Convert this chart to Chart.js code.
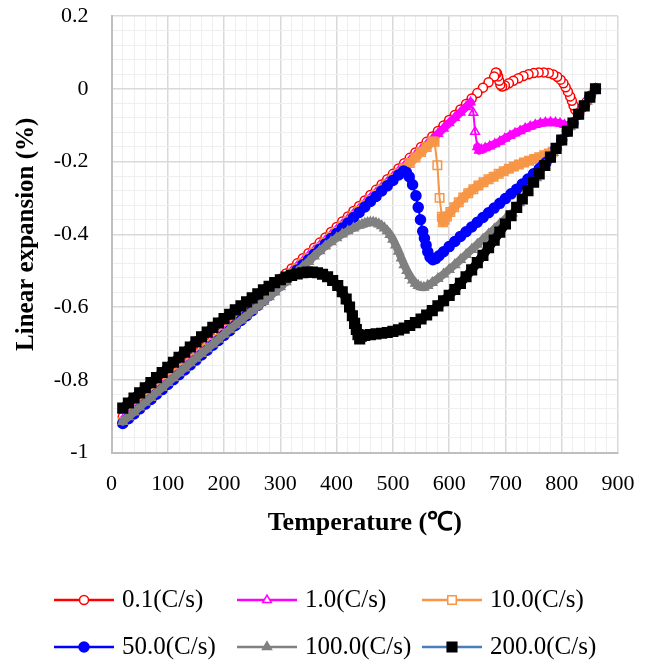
<!DOCTYPE html>
<html>
<head>
<meta charset="utf-8">
<script src="https://cdn.jsdelivr.net/npm/chart.js@4.4.1/dist/chart.umd.min.js"></script>
<style>
  html, body { margin: 0; padding: 0; background: #fff; }
</style>
</head>
<body>
<canvas id="chart" width="654" height="664"></canvas>
<script>
// cooling curves, temperature (C) and linear expansion (%)

// 0.1 C/s
const temp01 = [
  860, 852, 844, 836, 829, 824, 821, 818, 815, 811,
  807, 803, 798, 792, 785, 777, 768, 759, 750, 741,
  732, 723, 714, 706, 699, 694, 691, 689, 687, 685,
  683, 680, 670, 660, 650, 640, 630, 620, 610, 600,
  590, 580, 570, 560, 550, 540, 530, 520, 510, 500,
  490, 480, 470, 460, 450, 440, 430, 420, 410, 400,
  390, 380, 370, 360, 350, 340, 330, 320, 310, 300,
  290, 280, 270, 260, 250, 240, 230, 220, 210, 200,
  190, 180, 170, 160, 150, 140, 130, 120, 110, 100,
  90, 80, 70, 60, 50, 40, 30, 20
];
const exp01 = [
  0.000, -0.018, -0.036, -0.053, -0.063, -0.058, -0.046, -0.033, -0.021, -0.008,
  0.004, 0.015, 0.025, 0.033, 0.039, 0.043, 0.045, 0.045, 0.043, 0.040,
  0.035, 0.029, 0.022, 0.015, 0.009, 0.006, 0.011, 0.022, 0.034, 0.043,
  0.045, 0.034, 0.018, 0.003, -0.012, -0.027, -0.042, -0.057, -0.072, -0.086,
  -0.101, -0.116, -0.131, -0.146, -0.160, -0.175, -0.190, -0.205, -0.219, -0.234,
  -0.249, -0.263, -0.278, -0.292, -0.307, -0.322, -0.336, -0.351, -0.365, -0.380,
  -0.394, -0.409, -0.423, -0.437, -0.452, -0.466, -0.480, -0.494, -0.508, -0.522,
  -0.536, -0.550, -0.564, -0.578, -0.592, -0.606, -0.619, -0.633, -0.647, -0.660,
  -0.674, -0.687, -0.701, -0.714, -0.728, -0.741, -0.755, -0.768, -0.782, -0.795,
  -0.809, -0.822, -0.836, -0.849, -0.862, -0.876, -0.889, -0.902
];

// 1.0 C/s
const temp1 = [
  860, 850, 840, 830, 820, 812, 805, 797, 789, 780,
  771, 762, 753, 744, 735, 726, 717, 708, 699, 690,
  681, 672, 664, 657, 653, 650, 646, 643, 638, 630,
  620, 610, 600, 590, 580, 570, 560, 550, 540, 530,
  520, 510, 500, 490, 480, 470, 460, 450, 440, 430,
  420, 410, 400, 390, 380, 370, 360, 350, 340, 330,
  320, 310, 300, 290, 280, 270, 260, 250, 240, 230,
  220, 210, 200, 190, 180, 170, 160, 150, 140, 130,
  120, 110, 100, 90, 80, 70, 60, 50, 40, 30,
  20
];
const exp1 = [
  0.000, -0.023, -0.047, -0.070, -0.094, -0.103, -0.099, -0.095, -0.093, -0.092,
  -0.093, -0.095, -0.099, -0.104, -0.109, -0.116, -0.122, -0.129, -0.137, -0.145,
  -0.152, -0.158, -0.163, -0.167, -0.170, -0.160, -0.118, -0.066, -0.037, -0.050,
  -0.065, -0.080, -0.094, -0.109, -0.124, -0.139, -0.154, -0.168, -0.183, -0.198,
  -0.213, -0.227, -0.242, -0.257, -0.271, -0.286, -0.300, -0.315, -0.330, -0.344,
  -0.359, -0.373, -0.388, -0.402, -0.417, -0.431, -0.445, -0.460, -0.474, -0.488,
  -0.502, -0.516, -0.530, -0.544, -0.558, -0.572, -0.586, -0.600, -0.614, -0.627,
  -0.641, -0.655, -0.668, -0.682, -0.695, -0.709, -0.722, -0.736, -0.749, -0.763,
  -0.776, -0.790, -0.803, -0.817, -0.830, -0.844, -0.857, -0.870, -0.884, -0.897,
  -0.910
];

// 10.0 C/s
const temp10 = [
  860, 850, 840, 830, 820, 810, 800, 790, 784, 777,
  769, 760, 751, 742, 733, 724, 715, 706, 697, 688,
  679, 670, 661, 652, 643, 634, 625, 617, 609, 602,
  596, 592, 589, 587, 583, 579, 574, 570, 560, 550,
  540, 530, 520, 510, 500, 490, 480, 470, 460, 450,
  440, 430, 420, 410, 400, 390, 380, 370, 360, 350,
  340, 330, 320, 310, 300, 290, 280, 270, 260, 250,
  240, 230, 220, 210, 200, 190, 180, 170, 160, 150,
  140, 130, 120, 110, 100, 90, 80, 70, 60, 50,
  40, 30, 20
];
const exp10 = [
  0.000, -0.023, -0.047, -0.070, -0.094, -0.117, -0.141, -0.164, -0.173, -0.178,
  -0.183, -0.188, -0.193, -0.198, -0.203, -0.208, -0.214, -0.220, -0.227, -0.234,
  -0.242, -0.249, -0.257, -0.266, -0.276, -0.287, -0.299, -0.312, -0.326, -0.339,
  -0.351, -0.360, -0.367, -0.352, -0.300, -0.210, -0.146, -0.145, -0.160, -0.174,
  -0.189, -0.204, -0.219, -0.233, -0.248, -0.263, -0.277, -0.292, -0.306, -0.321,
  -0.336, -0.350, -0.365, -0.379, -0.394, -0.408, -0.423, -0.437, -0.451, -0.466,
  -0.480, -0.494, -0.508, -0.522, -0.536, -0.550, -0.564, -0.578, -0.592, -0.606,
  -0.620, -0.633, -0.647, -0.661, -0.674, -0.688, -0.701, -0.715, -0.728, -0.742,
  -0.755, -0.769, -0.782, -0.796, -0.809, -0.823, -0.836, -0.850, -0.863, -0.876,
  -0.890, -0.903, -0.916
];

// 50.0 C/s
const temp50 = [
  860, 850, 840, 830, 820, 810, 800, 790, 780, 772,
  766, 760, 750, 740, 730, 720, 710, 700, 690, 680,
  670, 660, 650, 640, 630, 620, 610, 600, 590, 582,
  576, 571, 566, 562, 559, 556, 553, 549, 545, 541,
  535, 529, 524, 519, 510, 500, 490, 480, 470, 460,
  450, 440, 430, 420, 410, 400, 390, 380, 370, 360,
  350, 340, 330, 320, 310, 300, 290, 280, 270, 260,
  250, 240, 230, 220, 210, 200, 190, 180, 170, 160,
  150, 140, 130, 120, 110, 100, 90, 80, 70, 60,
  50, 40, 30, 20
];
const exp50 = [
  0.000, -0.023, -0.047, -0.070, -0.094, -0.117, -0.141, -0.164, -0.188, -0.203,
  -0.212, -0.220, -0.234, -0.248, -0.262, -0.276, -0.289, -0.302, -0.315, -0.328,
  -0.341, -0.354, -0.367, -0.380, -0.393, -0.406, -0.420, -0.434, -0.448, -0.459,
  -0.467, -0.470, -0.463, -0.448, -0.430, -0.411, -0.392, -0.360, -0.326, -0.294,
  -0.264, -0.242, -0.230, -0.226, -0.237, -0.252, -0.267, -0.281, -0.296, -0.310,
  -0.325, -0.340, -0.354, -0.369, -0.383, -0.398, -0.412, -0.427, -0.441, -0.455,
  -0.470, -0.484, -0.498, -0.512, -0.526, -0.540, -0.554, -0.568, -0.582, -0.596,
  -0.610, -0.624, -0.637, -0.651, -0.665, -0.678, -0.692, -0.705, -0.719, -0.732,
  -0.746, -0.759, -0.773, -0.786, -0.800, -0.813, -0.827, -0.840, -0.854, -0.867,
  -0.880, -0.894, -0.907, -0.920
];

// 100.0 C/s
const temp100 = [
  860, 845, 830, 815, 800, 785, 770, 755, 740, 725,
  712, 700, 690, 680, 670, 660, 650, 640, 630, 620,
  610, 600, 590, 580, 570, 562, 555, 550, 545, 540,
  535, 530, 525, 520, 515, 510, 505, 500, 495, 490,
  485, 480, 475, 470, 465, 460, 455, 450, 445, 440,
  430, 420, 410, 400, 390, 380, 370, 360, 350, 340,
  330, 320, 310, 300, 290, 280, 270, 260, 250, 240,
  230, 220, 210, 200, 190, 180, 170, 160, 150, 140,
  130, 120, 110, 100, 90, 80, 70, 60, 50, 40,
  30, 20
];
const exp100 = [
  0.000, -0.035, -0.070, -0.105, -0.141, -0.176, -0.211, -0.245, -0.280, -0.314,
  -0.342, -0.358, -0.372, -0.386, -0.400, -0.414, -0.428, -0.442, -0.456, -0.470,
  -0.484, -0.497, -0.510, -0.522, -0.533, -0.541, -0.546, -0.545, -0.541, -0.535,
  -0.526, -0.514, -0.500, -0.484, -0.466, -0.447, -0.430, -0.414, -0.401, -0.391,
  -0.383, -0.377, -0.372, -0.369, -0.367, -0.367, -0.368, -0.370, -0.373, -0.376,
  -0.383, -0.391, -0.400, -0.410, -0.421, -0.433, -0.446, -0.460, -0.475, -0.489,
  -0.503, -0.517, -0.531, -0.545, -0.559, -0.572, -0.585, -0.598, -0.610, -0.623,
  -0.636, -0.649, -0.662, -0.675, -0.689, -0.702, -0.715, -0.728, -0.741, -0.754,
  -0.768, -0.781, -0.795, -0.808, -0.822, -0.835, -0.849, -0.862, -0.875, -0.889,
  -0.902, -0.915
];

// 200.0 C/s
const temp200 = [
  860, 850, 840, 830, 820, 810, 800, 790, 780, 770,
  760, 750, 740, 730, 720, 710, 700, 690, 680, 670,
  660, 650, 640, 630, 620, 610, 600, 590, 580, 570,
  560, 550, 540, 530, 520, 510, 500, 490, 480, 470,
  460, 450, 444, 441, 438, 435, 432, 428, 423, 417,
  410, 402, 393, 384, 375, 366, 357, 348, 340, 330,
  320, 310, 300, 290, 280, 270, 260, 250, 240, 230,
  220, 210, 200, 190, 180, 170, 160, 150, 140, 130,
  120, 110, 100, 90, 80, 70, 60, 50, 40, 30,
  20
];
const exp200 = [
  0.000, -0.023, -0.047, -0.070, -0.094, -0.117, -0.141, -0.164, -0.188, -0.211,
  -0.234, -0.257, -0.280, -0.303, -0.326, -0.349, -0.372, -0.394, -0.416, -0.437,
  -0.458, -0.478, -0.498, -0.517, -0.535, -0.552, -0.568, -0.583, -0.597, -0.610,
  -0.622, -0.633, -0.643, -0.651, -0.658, -0.663, -0.667, -0.670, -0.672, -0.674,
  -0.676, -0.678, -0.680, -0.688, -0.676, -0.662, -0.645, -0.624, -0.600, -0.578,
  -0.558, -0.541, -0.527, -0.517, -0.510, -0.506, -0.504, -0.504, -0.506, -0.509,
  -0.513, -0.518, -0.525, -0.533, -0.543, -0.553, -0.564, -0.575, -0.586, -0.597,
  -0.608, -0.620, -0.632, -0.644, -0.656, -0.669, -0.682, -0.696, -0.710, -0.724,
  -0.738, -0.752, -0.766, -0.780, -0.794, -0.808, -0.822, -0.836, -0.850, -0.864,
  -0.878
];

const seriesLabels = ['0.1(C/s)', '1.0(C/s)', '10.0(C/s)', '50.0(C/s)', '100.0(C/s)', '200.0(C/s)'];

const FONT = "'Liberation Serif', 'Times New Roman', serif";

function points(temps, exps) {
  return temps.map((t, i) => ({ x: t, y: exps[i] }));
}

// dense runs of markers merge into a solid band; long jumps keep the thin line
function segLen(c) {
  return Math.hypot(c.p1.x - c.p0.x, c.p1.y - c.p0.y);
}

function makeSet(label, temps, exps, o) {
  return {
    label: label,
    data: points(temps, exps),
    showLine: true,
    tension: 0,
    borderColor: o.line,
    borderWidth: 2,
    borderCapStyle: 'round',
    borderJoinStyle: 'round',
    segment: {
      borderWidth: (c) => segLen(c) < 10 ? o.band : 2,
      borderColor: (c) => segLen(c) < 10 ? o.color : o.line
    },
    pointStyle: o.style,
    pointRadius: o.r,
    pointHoverRadius: o.r,
    pointBorderColor: o.color,
    pointBackgroundColor: o.fill,
    pointBorderWidth: 1.5,
    legendFill: o.legendFill,
    order: o.order
  };
}

const CLEAR = 'rgba(255,255,255,0)';
const datasets = [
  makeSet(seriesLabels[0], temp01, exp01, { line: '#ff0000', color: '#ff0000', fill: '#ffffff', legendFill: '#ffffff', style: 'circle', r: 4.5, band: 7, order: 6 }),
  makeSet(seriesLabels[1], temp1, exp1, { line: '#ff00ff', color: '#ff00ff', fill: CLEAR, legendFill: '#ffffff', style: 'triangle', r: 5, band: 8, order: 5 }),
  makeSet(seriesLabels[2], temp10, exp10, { line: '#f79646', color: '#f79646', fill: CLEAR, legendFill: '#ffffff', style: 'rect', r: 6, band: 9, order: 4 }),
  makeSet(seriesLabels[3], temp50, exp50, { line: '#0000ff', color: '#0000ff', fill: '#0000ff', legendFill: '#0000ff', style: 'circle', r: 5, band: 8, order: 3 }),
  makeSet(seriesLabels[4], temp100, exp100, { line: '#808080', color: '#808080', fill: '#808080', legendFill: '#808080', style: 'triangle', r: 5.2, band: 8, order: 2 }),
  makeSet(seriesLabels[5], temp200, exp200, { line: '#4a7ebb', color: '#000000', fill: '#000000', legendFill: '#000000', style: 'rect', r: 6.8, band: 9, order: 1 })
];

function isMajor(v, step) {
  const q = v / step;
  return Math.abs(q - Math.round(q)) < 1e-6;
}

// legend drawn under the plot: line sample with marker, then the label
const legendCols = [54, 237, 422];
const legendRows = [600, 647];
const bottomLegend = {
  id: 'bottomLegend',
  afterDraw(chart) {
    const ctx = chart.ctx;
    chart.data.datasets.forEach((ds, i) => {
      const x0 = legendCols[i % 3];
      const y = legendRows[Math.floor(i / 3)];
      ctx.save();
      ctx.strokeStyle = ds.borderColor;
      ctx.lineWidth = 2.5;
      ctx.beginPath();
      ctx.moveTo(x0, y);
      ctx.lineTo(x0 + 60, y);
      ctx.stroke();
      ctx.fillStyle = ds.legendFill;
      ctx.strokeStyle = ds.pointBorderColor;
      ctx.lineWidth = ds.pointBorderWidth;
      Chart.helpers.drawPoint(ctx, {
        pointStyle: ds.pointStyle,
        radius: ds.pointRadius,
        borderWidth: ds.pointBorderWidth,
        rotation: 0
      }, x0 + 30, y);
      ctx.fillStyle = '#000';
      ctx.font = '25px ' + FONT;
      ctx.textAlign = 'left';
      ctx.textBaseline = 'middle';
      ctx.fillText(ds.label, x0 + 68, y);
      ctx.restore();
    });
  }
};

new Chart(document.getElementById('chart'), {
  type: 'scatter',
  data: { datasets: datasets },
  plugins: [bottomLegend],
  options: {
    responsive: false,
    animation: false,
    devicePixelRatio: 1,
    layout: { padding: { left: 0, right: 36, top: 16, bottom: 120 } },
    plugins: {
      legend: { display: false },
      tooltip: { enabled: false }
    },
    scales: {
      x: {
        type: 'linear',
        min: 0,
        max: 900,
        afterFit: (scale) => { scale.height = 91.5; },
        border: { color: '#bfbfbf', width: 2 },
        grid: {
          drawTicks: false,
          color: (c) => isMajor(c.tick.value, 100) ? '#d9d9d9' : '#efefef',
          lineWidth: (c) => isMajor(c.tick.value, 100) ? 1.5 : 1
        },
        ticks: {
          stepSize: 20,
          autoSkip: false,
          maxRotation: 0,
          padding: 19,
          color: '#000',
          font: { family: FONT, size: 22 },
          callback: (v) => isMajor(v, 100) ? String(Math.round(v)) : ''
        },
        title: {
          display: true,
          text: 'Temperature (℃)',
          color: '#000',
          font: { family: FONT, size: 26, weight: 'bold' },
          padding: { top: 0, bottom: 5 }
        }
      },
      y: {
        min: -1,
        max: 0.2,
        afterFit: (scale) => {
          scale.width = 111.5;
          scale.paddingTop = 12;
          scale.paddingBottom = 12;
        },
        border: { color: '#bfbfbf', width: 2 },
        grid: {
          drawTicks: false,
          color: (c) => isMajor(c.tick.value, 0.2) ? '#d9d9d9' : '#efefef',
          lineWidth: (c) => isMajor(c.tick.value, 0.2) ? 1.5 : 1
        },
        ticks: {
          stepSize: 0.04,
          autoSkip: false,
          padding: 23,
          color: '#000',
          font: { family: FONT, size: 22 },
          callback: (v) => isMajor(v, 0.2) ? String(Math.round(v * 5) / 5) : ''
        },
        title: {
          display: true,
          text: 'Linear expansion (%)',
          color: '#000',
          font: { family: FONT, size: 25, weight: 'bold' },
          padding: { top: 12, bottom: 0 }
        }
      }
    }
  }
});
</script>
</body>
</html>
